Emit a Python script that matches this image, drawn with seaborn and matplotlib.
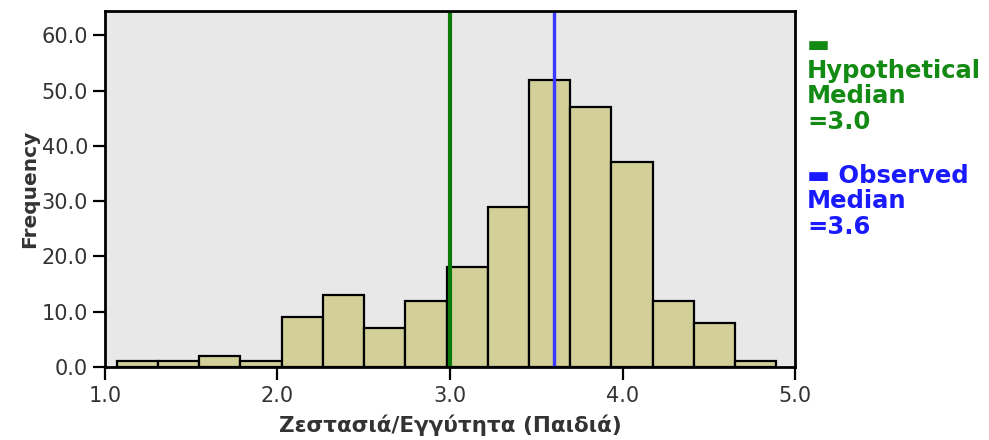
import numpy as np
import pandas as pd
import seaborn as sns
import matplotlib.pyplot as plt

# Histogram bins (16 equal bins)
bin_edges = [1.07, 1.309, 1.547, 1.786, 2.025, 2.264, 2.502, 2.741, 2.98,
             3.219, 3.457, 3.696, 3.935, 4.174, 4.412, 4.651, 4.89]
counts = [1, 1, 2, 1, 9, 13, 7, 12, 18, 29, 52, 47, 37, 12, 8, 1]
hyp_median = 3.0
obs_median = 3.6
x_ticks = [1.0, 2.0, 3.0, 4.0, 5.0]
y_ticks = [0, 10, 20, 30, 40, 50, 60]

centers = [(a + b) / 2 for a, b in zip(bin_edges[:-1], bin_edges[1:])]
df = pd.DataFrame({"value": centers, "count": counts})

sns.set_style("white")
plt.rcParams["font.family"] = ["DejaVu Sans"]

fig = plt.figure(figsize=(9.89, 4.4), dpi=100)
ax = fig.add_axes([0.106, 0.166, 0.698, 0.809])
ax.set_facecolor("#e8e8e8")

sns.histplot(data=df, x="value", weights="count", bins=bin_edges, ax=ax,
             color="#d3cf99", alpha=1, edgecolor="black", linewidth=1.6)

ax.axvline(hyp_median, color="#0b7a0b", linewidth=3)
ax.axvline(obs_median, color="#3a3aff", linewidth=2.4)

ax.set_xlim(1.0, 5.0)
ax.set_ylim(0, 64.4)
ax.set_xticks(x_ticks)
ax.set_yticks(y_ticks)
ax.set_xticklabels([f"{t:.1f}" for t in x_ticks])
ax.set_yticklabels([f"{t:.1f}" for t in y_ticks])
ax.tick_params(axis="both", bottom=True, left=True, direction="out", length=9,
               width=1.6, labelsize=15, colors="black", labelcolor="#333333")
ax.tick_params(axis="x", pad=5)
ax.tick_params(axis="y", pad=3)

for s in ax.spines.values():
    s.set_color("black")
    s.set_linewidth(2)

ax.set_xlabel("Ζεστασιά/Εγγύτητα (Παιδιά)", fontsize=15.5, fontweight="bold",
              color="#333333", labelpad=6)
ax.set_ylabel("Frequency", fontsize=14.5, fontweight="bold", color="#333333",
              labelpad=2)

# Legend text at the right
fig.text(0.816, 0.925, "▬\nHypothetical\nMedian\n=3.0", color="#138a13",
         fontsize=17.5, fontweight="bold", va="top", ha="left", linespacing=1.09)
fig.text(0.816, 0.628, "▬ Observed\nMedian\n=3.6", color="#1a1aff",
         fontsize=17.5, fontweight="bold", va="top", ha="left", linespacing=1.09)

plt.savefig("out.png", dpi=100)
